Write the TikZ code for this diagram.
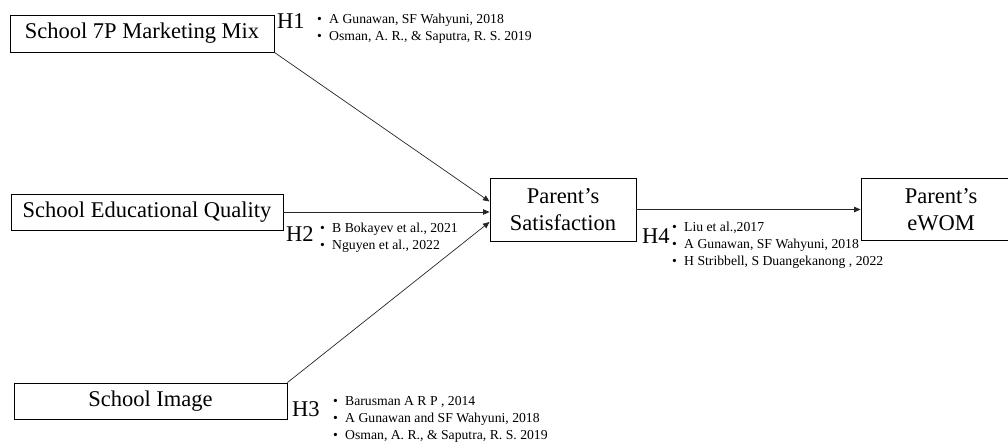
\documentclass[tikz,border=0pt]{standalone}
\usepackage{fontspec}
\setmainfont{Liberation Serif}
\usetikzlibrary{positioning,calc,arrows.meta}

\newcommand{\refitem}[1]{\textbullet\hspace{7.2pt}#1}

\begin{document}
\begin{tikzpicture}[x=1pt, y=-1pt,
    var block/.style={draw, rectangle, line width=0.9pt, inner sep=0pt, align=center, font=\fontsize{22.5}{27}\selectfont},
    hyp/.style={inner sep=0pt, anchor=base west, font=\fontsize{22.5}{27}\selectfont},
    refs/.style={inner sep=0pt, anchor=north west, align=left, font=\fontsize{13.7}{17}\selectfont},
    link/.style={-{Triangle[length=6.5pt, width=5.5pt]}, line width=0.7pt, black!85}]
    \clip (0,0) rectangle (1008,442);

    \node[var block, minimum width=264pt, minimum height=37pt] (mix) at (142,33.5) {School 7P Marketing Mix};
    \node[var block, minimum width=272pt, minimum height=36pt] (edu) at (147,212) {School Educational Quality};
    \node[var block, minimum width=273pt, minimum height=36pt] (img) at (150.5,401) {School Image};
    \node[var block, minimum width=146pt, minimum height=63pt] (sat) at (563,209.5) {Parent’s \\ Satisfaction};
    \node[var block, minimum width=160pt, minimum height=62pt] (wom) at (941,209.5) {Parent’s \\ eWOM};

    \coordinate (in1) at ([yshift=8pt]sat.west);
    \coordinate (in3) at ([yshift=-12.5pt]sat.west);

    \draw[link] (mix.south east) -- (in1);
    \draw[link] (edu.east) -- (sat.west |- edu.east);
    \draw[link] (img.north east) -- (in3);
    \draw[link] (sat.east) -- (wom.west); % to eWOM

    % hypotheses and their sources
    \node[hyp] (h1) at (277,28.5) {H1};
    \node[refs] (r1) at (317,13.6) {\refitem{A Gunawan, SF Wahyuni, 2018} \\ \refitem{Osman, A. R., \& Saputra, R. S. 2019}};
    \node[hyp] (h2) at (286,241) {H2};
    \node[refs] (r2) at (320,222.6) {\refitem{B Bokayev et al., 2021} \\ \refitem{Nguyen et al., 2022}};
    \node[hyp] (h3) at (292,416) {H3};
    \node[refs] (r3) at (333,396.1) {\refitem{Barusman A R P , 2014} \\ \refitem{A Gunawan and SF Wahyuni, 2018} \\ \refitem{Osman, A. R., \& Saputra, R. S. 2019}};
    \node[hyp] (h4) at (642,243) {H4};
    \node[refs] (r4) at (672,221.6) {\refitem{Liu et al.,2017} \\ \refitem{A Gunawan, SF Wahyuni, 2018} \\ \refitem{H Stribbell, S Duangekanong , 2022}};
\end{tikzpicture}
\end{document}
